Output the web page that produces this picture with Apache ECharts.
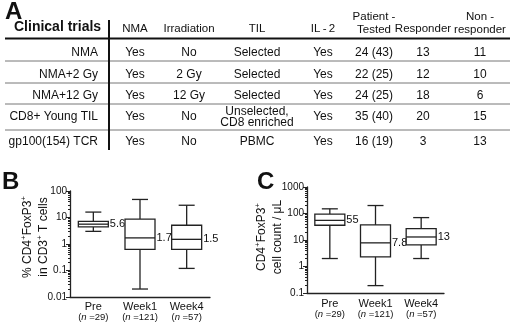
<!DOCTYPE html>
<html>
<head>
<meta charset="utf-8">
<script src="https://cdn.jsdelivr.net/npm/echarts@6/dist/echarts.min.js"></script>
<style>
  html, body { margin: 0; padding: 0; background: #fff; }
  #chart { width: 520px; height: 328px; }
</style>
</head>
<body>
<div id="chart"></div>
<script>
const FONT = '"Liberation Sans", Arial, sans-serif';

// panel A table
const tableHeaders = ['NMA', 'Irradiation', 'TIL', 'IL\u2009-\u20092', 'Patient -\nTested', 'Responder', 'Non -\nresponder'];
const trialNames = ['NMA', 'NMA+2 Gy', 'NMA+12 Gy', 'CD8+ Young TIL', 'gp100(154) TCR'];
const tableRows = [
  ['Yes', 'No', 'Selected', 'Yes', '24 (43)', '13', '11'],
  ['Yes', '2 Gy', 'Selected', 'Yes', '22 (25)', '12', '10'],
  ['Yes', '12 Gy', 'Selected', 'Yes', '24 (25)', '18', '6'],
  ['Yes', 'No', 'Unselected,\nCD8 enriched', 'Yes', '35 (40)', '20', '15'],
  ['Yes', 'No', 'PBMC', 'Yes', '16 (19)', '3', '13']
];

// panels B and C: [min, Q1, median, Q3, max]
const timepoints = ['Pre', 'Week1', 'Week4'];
const nPatients = [29, 121, 57];
const boxB = [
  [3, 4.4, 5.6, 7.2, 16],
  [0.02, 0.63, 1.7, 8.7, 48],
  [0.12, 0.63, 1.5, 5.1, 29]
];
const medianLabelsB = ['5.6', '1.7', '1.5'];
const boxC = [
  [2, 36, 55, 95, 150],
  [0.19, 2.3, 7.8, 37, 200],
  [2, 6.5, 13, 27, 70]
];
const medianLabelsC = ['55', '7.8', '13'];
const yTicksB = ['0.01', '0.1', '1', '10', '100'];
const yTicksC = ['0.1', '1', '10', '100', '1000'];

const colX = [135, 189, 257, 323, 374, 423, 480];
const rowY = [52.7, 74.3, 96, 117, 141.7];
const rowLines = [61, 83, 104, 130];

function txt(text, x, y, size, align, extra) {
  return {
    type: 'text', silent: true,
    style: Object.assign({
      text: text, x: x, y: y, fill: '#111',
      font: (size || 12) + 'px ' + FONT,
      align: align || 'center', verticalAlign: 'middle', lineHeight: 12
    }, extra || {})
  };
}

const graphic = [];
graphic.push(txt('A', 5, 12, 24, 'left', { font: 'bold 24px ' + FONT }));
graphic.push(txt('B', 2, 182, 24, 'left', { font: 'bold 24px ' + FONT }));
graphic.push(txt('C', 257, 182, 24, 'left', { font: 'bold 24px ' + FONT }));
graphic.push(txt('Clinical trials', 14, 27, 14, 'left', { font: 'bold 14px ' + FONT }));
tableHeaders.forEach((h, i) => {
  const twoLine = h.indexOf('\n') >= 0;
  graphic.push(txt(h, colX[i], twoLine ? 23.5 : 29, 11.5, 'center', { lineHeight: 13 }));
});
trialNames.forEach((name, r) => {
  graphic.push(txt(name, 98, rowY[r], 12, 'right'));
  tableRows[r].forEach((cell, c) => {
    graphic.push(txt(cell, colX[c], rowY[r], 12, 'center', { lineHeight: 11 }));
  });
});
graphic.push({ type: 'line', silent: true, shape: { x1: 5, y1: 38.5, x2: 510, y2: 38.5 }, style: { stroke: '#111', lineWidth: 2 } });
rowLines.forEach(y => {
  graphic.push({ type: 'line', silent: true, shape: { x1: 5, y1: y, x2: 510, y2: y }, style: { stroke: '#777', lineWidth: 1 } });
});
graphic.push({ type: 'line', silent: true, shape: { x1: 109, y1: 20, x2: 109, y2: 150 }, style: { stroke: '#111', lineWidth: 2 } });

const supRich = {
  m: { fontSize: 12, lineHeight: 16, fontFamily: FONT, fill: '#111' },
  sup: { fontSize: 8, lineHeight: 16, verticalAlign: 'top', fontFamily: FONT, fill: '#111' }
};
graphic.push({
  type: 'text', silent: true, x: 36, y: 237, rotation: Math.PI / 2,
  style: {
    text: '{m|% CD4}{sup|+}{m|FoxP3}{sup|+}\n{m|in CD3}{sup|+}{m| T cells}',
    align: 'center', verticalAlign: 'middle', rich: supRich
  }
});
graphic.push({
  type: 'text', silent: true, x: 270, y: 237, rotation: Math.PI / 2,
  style: {
    text: '{m|CD4}{sup|+}{m|FoxP3}{sup|+}\n{m|cell count / \u03bcL}',
    align: 'center', verticalAlign: 'middle', rich: supRich
  }
});

function boxItem(params, api, labels) {
  const idx = api.value(0);
  const lo = api.coord([idx, api.value(1)]);
  const q1 = api.coord([idx, api.value(2)]);
  const med = api.coord([idx, api.value(3)]);
  const q3 = api.coord([idx, api.value(4)]);
  const hi = api.coord([idx, api.value(5)]);
  const cx = med[0], hw = 15, cw = 8;
  const ls = { stroke: '#222', lineWidth: 1.3, fill: null };
  return {
    type: 'group',
    children: [
      { type: 'rect', shape: { x: cx - hw, y: q3[1], width: hw * 2, height: q1[1] - q3[1] }, style: { stroke: '#222', lineWidth: 1.3, fill: '#fff' } },
      { type: 'line', shape: { x1: cx - hw, y1: med[1], x2: cx + hw, y2: med[1] }, style: ls },
      { type: 'line', shape: { x1: cx, y1: q3[1], x2: cx, y2: hi[1] }, style: ls },
      { type: 'line', shape: { x1: cx, y1: q1[1], x2: cx, y2: lo[1] }, style: ls },
      { type: 'line', shape: { x1: cx - cw, y1: hi[1], x2: cx + cw, y2: hi[1] }, style: ls },
      { type: 'line', shape: { x1: cx - cw, y1: lo[1], x2: cx + cw, y2: lo[1] }, style: ls },
      { type: 'text', style: { text: labels[params.dataIndex], x: cx + hw + 1.5, y: med[1], verticalAlign: 'middle', align: 'left', font: '11px ' + FONT, fill: '#111' } }
    ]
  };
}

function xAxisFor(gridIndex, margin) {
  return {
    type: 'category', gridIndex: gridIndex, data: timepoints,
    axisLine: { lineStyle: { color: '#222', width: 1.3 } },
    axisTick: { alignWithLabel: true, length: 3, lineStyle: { color: '#222' } },
    axisLabel: {
      interval: 0, hideOverlap: false,
      margin: margin, color: '#111', fontFamily: FONT,
      formatter: (v, i) => '{a|' + v + '}\n{s|(}{i|n}{s| =' + nPatients[i] + ')}',
      rich: {
        a: { fontSize: 11, lineHeight: 10, fontFamily: FONT, color: '#111' },
        s: { fontSize: 9.5, lineHeight: 11, fontFamily: FONT, color: '#111' },
        i: { fontSize: 9.5, lineHeight: 11, fontStyle: 'italic', fontFamily: FONT, color: '#111' }
      }
    }
  };
}

function yAxisFor(gridIndex, min, max, ticks) {
  return {
    type: 'log', logBase: 10, gridIndex: gridIndex, min: min, max: max,
    splitLine: { show: false },
    axisLine: { show: true, lineStyle: { color: '#222', width: 1.3 } },
    axisTick: { show: true, length: 4, lineStyle: { color: '#222' } },
    minorTick: { show: true, splitNumber: 9, length: 2, lineStyle: { color: '#222' } },
    axisLabel: {
      color: '#111', fontSize: 10, fontFamily: FONT, margin: 3,
      formatter: v => ticks[Math.round(Math.log10(v) - Math.log10(min))]
    }
  };
}

const chart = echarts.init(document.getElementById('chart'));
chart.setOption({
  animation: false,
  backgroundColor: '#fff',
  textStyle: { fontFamily: FONT },
  graphic: graphic,
  grid: [
    { left: 70, width: 140, top: 191, height: 106 },
    { left: 307, width: 137, top: 187, height: 106 }
  ],
  xAxis: [xAxisFor(0, 5), xAxisFor(1, 6)],
  yAxis: [yAxisFor(0, 0.01, 100, yTicksB), yAxisFor(1, 0.1, 1000, yTicksC)],
  series: [
    {
      type: 'custom', xAxisIndex: 0, yAxisIndex: 0,
      encode: { x: 0, y: [1, 2, 3, 4, 5] },
      data: boxB.map((b, i) => [i].concat(b)),
      renderItem: (p, api) => boxItem(p, api, medianLabelsB)
    },
    {
      type: 'custom', xAxisIndex: 1, yAxisIndex: 1,
      encode: { x: 0, y: [1, 2, 3, 4, 5] },
      data: boxC.map((b, i) => [i].concat(b)),
      renderItem: (p, api) => boxItem(p, api, medianLabelsC)
    }
  ]
});
</script>
</body>
</html>
